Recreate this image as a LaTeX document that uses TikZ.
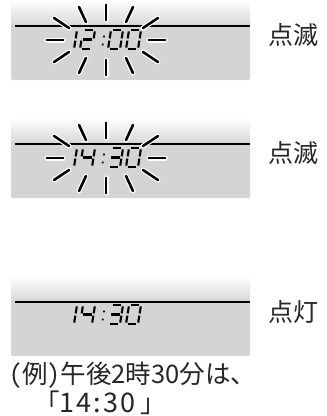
\documentclass[tikz,border=0pt]{standalone}
\usepackage{fontspec}
\newfontfamily\jp{Noto Sans CJK JP}
\newfontfamily\jph[RawFeature=+hwid]{Noto Sans CJK JP}
\newfontfamily\jpsp[LetterSpace=8]{Noto Sans CJK JP}
\tikzset{
  seg/.style={line width=2.1pt, line cap=butt, black},
  rayw/.style={line width=5pt, white, line cap=round},
  rayb/.style={line width=2.6pt, black, line cap=round},
  panelline/.style={line width=1.4pt, black},
  lbl/.style={inner sep=0pt, text=black!85, font=\jp\fontsize{25}{30}\selectfont},
  captext/.style={inner sep=0pt, text=black!85, font=\jp\fontsize{25.5}{30}\selectfont},
}
\newcommand\sA{\draw[seg] (1.6,-19)--(10.4,-19);}
\newcommand\sB{\draw[seg] (12,-17.6)--(12,-10.6);}
\newcommand\sC{\draw[seg] (12,-8.4)--(12,-1.4);}
\newcommand\sD{\draw[seg] (1.6,0)--(10.4,0);}
\newcommand\sE{\draw[seg] (0,-8.4)--(0,-1.4);}
\newcommand\sF{\draw[seg] (0,-17.6)--(0,-10.6);}
\newcommand\sG{\draw[seg] (1.6,-9.5)--(10.4,-9.5);}
\newcommand\dOne{\sB\sC}
\newcommand\dTwo{\sA\sB\sG\sE\sD}
\newcommand\dThree{\sA\sB\sG\sC\sD}
\newcommand\dFour{\sF\sG\sB\sC}
\newcommand\dZero{\sA\sB\sC\sD\sE\sF}
\newcommand\dColon{\fill (-0.9,-13.4) rectangle (0.9,-11.6); \fill (-0.9,-5.4) rectangle (0.9,-3.6);}
\newcommand\digit[3]{\begin{scope}[shift={(#1,#2)},xslant=0.16]#3\end{scope}}
% panel: #1 = y of the line
\newcommand\panel[1]{%
  \shade[top color=white, bottom color=black!16] (11,#1-26) rectangle (250,#1);
  \fill[black!17, rounded corners=2pt] (11,#1-2) -- (11,#1+54) -- (250,#1+54) -- (250,#1-2) -- cycle;
  \fill[black!17] (11,#1-1) rectangle (250,#1+3);
  \draw[panelline] (15,#1) -- (250,#1);
}
\newcommand\rays[2]{%
  \foreach \sx in {1,-1}{\foreach \sy in {1,-1}{
    \foreach \ix/\iy/\ox/\oy in {43/0/59/0, 37/12/52/22, 20/18/27/33, 0/20/0/35}{
      \draw[rayw] (#1+\sx*\ix,#2+\sy*\iy) -- (#1+\sx*\ox,#2+\sy*\oy);
    }}}
  \foreach \sx in {1,-1}{\foreach \sy in {1,-1}{
    \foreach \ix/\iy/\ox/\oy in {43/0/59/0, 37/12/52/22, 20/18/27/33, 0/20/0/35}{
      \draw[rayb] (#1+\sx*\ix,#2+\sy*\iy) -- (#1+\sx*\ox,#2+\sy*\oy);
    }}}
}
\begin{document}
\begin{tikzpicture}[x=1pt,y=-1pt]
\useasboundingbox (0,0) rectangle (327,416);
\begin{scope}
\clip (0,0) rectangle (327,416);
% panel 1
\panel{26}
\rays{106}{40}
\digit{62}{49}{\dOne}
\digit{80}{49}{\dTwo}
\digit{102}{49}{\dColon}
\digit{108}{49}{\dZero}
\digit{126}{49}{\dZero}
% panel 2
\panel{144}
\rays{106}{158}
\digit{62}{167}{\dOne}
\digit{80}{167}{\dFour}
\digit{102}{167}{\dColon}
\digit{108}{167}{\dThree}
\digit{126}{167}{\dZero}
% panel 3
\panel{302}
\digit{62}{324}{\dOne}
\digit{80}{324}{\dFour}
\digit{102}{324}{\dColon}
\digit{108}{324}{\dThree}
\digit{126}{324}{\dZero}
\end{scope}
\node[lbl, anchor=west] (l1) at (268,35) {点滅};
\node[lbl, anchor=west] (l2) at (268,153) {点滅};
\node[lbl, anchor=west] (l3) at (268,312) {点灯};
\node[captext, anchor=west] (c1) at (9.5,375) {{\jph(}例{\jph)}午後2時30分は、};
\node[captext, anchor=west] (c2) at (34,403) {「{\jpsp\fontsize{27}{30}\selectfont 14:30}\kern5pt」};
\end{tikzpicture}
\end{document}
